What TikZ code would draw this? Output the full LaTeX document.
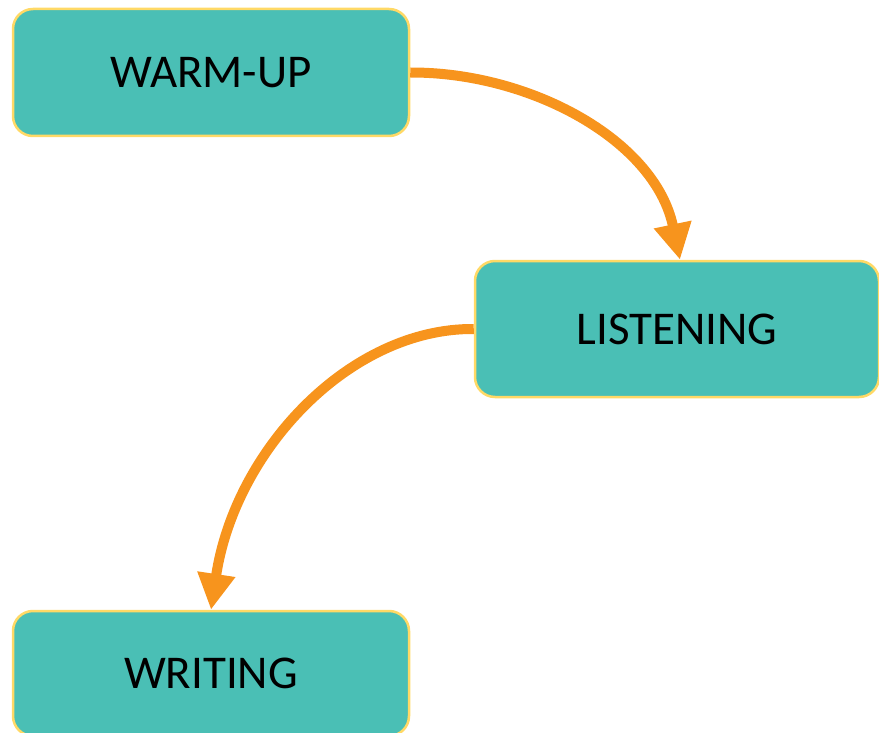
\documentclass[tikz,border=0pt]{standalone}
\usepackage{fontspec}
\setmainfont{Carlito}
\usetikzlibrary{arrows.meta}
\definecolor{boxfill}{HTML}{4ABFB5}
\definecolor{boxedge}{HTML}{FFD966}
\definecolor{arrowc}{HTML}{F7941D}
\tikzset{
  stagebox/.style={draw=boxedge, fill=boxfill, line width=2.5pt, rounded corners=20pt,
    inner sep=0pt, font=\fontsize{47}{56}\selectfont, text=black},
  flowarrow/.style={draw=arrowc, line width=10pt, -{Triangle[length=36pt,width=36pt]}}
}
\begin{document}
\begin{tikzpicture}[x=1pt,y=-1pt]
\useasboundingbox (0,0) rectangle (879,733);
\node[stagebox, minimum width=396pt, minimum height=127pt] (w) at (211,72.5) {WARM-UP};
\node[stagebox, minimum width=404pt, minimum height=136pt] (l) at (677,329) {LISTENING};
\node[stagebox, minimum width=396pt, minimum height=125pt] (r) at (211,673.5) {WRITING};
\draw[flowarrow] (w.east) .. controls (530,72) and (655,140) .. ([xshift=3pt]l.north);
\draw[flowarrow] (l.west) .. controls (350,328) and (235,450) .. (r.north);
\end{tikzpicture}
\end{document}
